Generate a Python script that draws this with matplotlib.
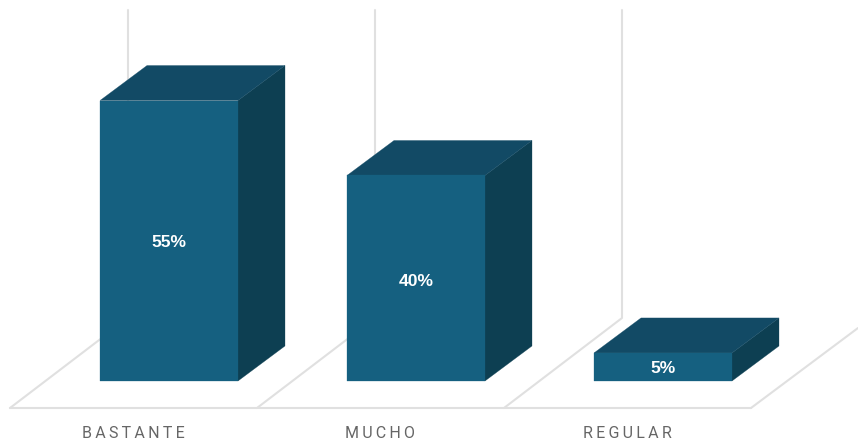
#!/usr/bin/env python3

import matplotlib

matplotlib.use("Agg")
import matplotlib.pyplot as plt
from matplotlib.patches import Polygon

categories = ["BASTANTE", "MUCHO", "REGULAR"]
values = [55, 40.3, 5.5]
value_labels = ["55%", "40%", "5%"]
label_y = [27.1, 19.5, 2.4]

FRONT = "#156080"
TOP = "#124a65"
SIDE = "#0d3f52"
GRID = "#e0e0e0"

# one category = 247 px, one percent = 5.1 px
PX_X = 1 / 247
PX_Y = 1 / 5.1
half_width = 69 * PX_X
depth_x = 47 * PX_X
depth_y = 35 * PX_Y
floor_y = -27 * PX_Y
wall_top = 371 * PX_Y
wall_x = -41 * PX_X
floor_depth_x = 118 * PX_X
floor_depth_y = 90 * PX_Y
floor_end = 2 + wall_x + 129 * PX_X

fig = plt.figure(figsize=(8.58, 4.43), dpi=100)
ax = fig.add_axes([0, 0, 1, 1])
ax.set_xlim(-169 * PX_X, 689 * PX_X)
ax.set_ylim(-62 * PX_Y, 381 * PX_Y)
ax.axis("off")

line_style = {"color": GRID, "lw": 1.5, "solid_capstyle": "round", "zorder": 1}
ax.plot([wall_x - floor_depth_x, floor_end], [floor_y, floor_y], **line_style)
for i in range(len(categories)):
    x = i + wall_x
    ax.plot(
        [x, x, x - floor_depth_x],
        [wall_top, floor_y + floor_depth_y, floor_y],
        **line_style,
    )
ax.plot(
    [floor_end, floor_end + 107 * PX_X],
    [floor_y, floor_y + 80 * PX_Y],
    **line_style,
)

for i, (name, value) in enumerate(zip(categories, values)):
    left = i - half_width
    right = i + half_width
    ax.add_patch(
        Polygon(
            [
                (right, 0),
                (right + depth_x, depth_y),
                (right + depth_x, value + depth_y),
                (right, value),
            ],
            fc=SIDE,
            ec=SIDE,
            lw=0.2,
            zorder=3,
        )
    )
    ax.add_patch(
        Polygon(
            [
                (left, value),
                (right, value),
                (right + depth_x, value + depth_y),
                (left + depth_x, value + depth_y),
            ],
            fc=TOP,
            ec=TOP,
            lw=0.2,
            zorder=3,
        )
    )
    ax.add_patch(
        Polygon(
            [(left, 0), (right, 0), (right, value), (left, value)],
            fc=FRONT,
            ec=FRONT,
            lw=0.2,
            zorder=3,
        )
    )
    ax.text(
        i,
        label_y[i],
        value_labels[i],
        color="white",
        fontsize=12.6,
        fontweight="bold",
        family="Liberation Sans",
        ha="center",
        va="center",
        zorder=4,
    )
    ax.text(
        i - 36 * PX_X,
        -52 * PX_Y,
        "\u2009".join(name),
        color="#666666",
        fontsize=11.5,
        family=["Roboto", "DejaVu Sans"],
        ha="center",
        va="center",
    )

fig.savefig("out.png", dpi=100)
